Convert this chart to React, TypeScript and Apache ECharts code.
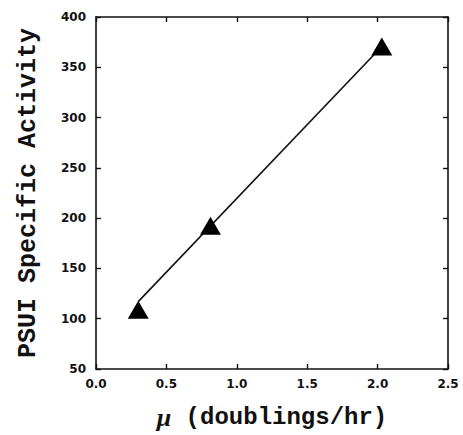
import React, { useEffect, useRef } from "react";
import * as echarts from "echarts";

const growthRate = [0.3, 0.813, 2.03];
const activity = [109, 192.4, 370.6];
const fitX = [0.3, 2.03];
const fitY = [117, 370.6];
const xTicks = [0, 0.5, 1.0, 1.5, 2.0, 2.5];
const yTicks = [50, 100, 150, 200, 250, 300, 350, 400];

const ink = "#111";
const labelFont = { fontFamily: "DejaVu Sans", fontWeight: "bold" as const, fontSize: 12, color: ink };
const titleFamily = "'Liberation Mono', monospace";

export default function App() {
  const ref = useRef<HTMLDivElement>(null);
  useEffect(() => {
    if (!ref.current) return;
    const chart = echarts.init(ref.current, null, { renderer: "svg" });
    const axisCommon = {
      type: "value" as const,
      axisLine: { show: true, onZero: false, lineStyle: { color: ink, width: 1.6 } },
      axisTick: { show: true, inside: true, length: 5, lineStyle: { color: ink, width: 1.4 } },
      splitLine: { show: false },
    };
    chart.setOption({
      animation: false,
      grid: { left: 96, right: 15, top: 17, bottom: 58, containLabel: false },
      xAxis: [
        {
          ...axisCommon,
          min: xTicks[0],
          max: xTicks[xTicks.length - 1],
          interval: 0.5,
          position: "bottom",
          axisLabel: { ...labelFont, margin: 9, formatter: (v: number) => v.toFixed(1) },
          name: "{mu|\u03bc} (doublings/hr)",
          nameLocation: "middle",
          nameGap: 35,
          nameTextStyle: {
            fontFamily: titleFamily,
            fontWeight: "bold",
            fontSize: 24,
            color: ink,
            rich: {
              mu: { fontFamily: "'Liberation Serif', serif", fontStyle: "italic", fontWeight: "bold", fontSize: 26, color: ink },
            },
          },
        },
        {
          ...axisCommon,
          min: xTicks[0],
          max: xTicks[xTicks.length - 1],
          interval: 0.5,
          position: "top",
          axisLabel: { show: false },
        },
      ],
      yAxis: [
        {
          ...axisCommon,
          min: yTicks[0],
          max: yTicks[yTicks.length - 1],
          interval: 50,
          position: "left",
          axisLabel: { ...labelFont, margin: 10 },
          name: "PSUI Specific Activity",
          nameLocation: "middle",
          nameGap: 55,
          nameTextStyle: { fontFamily: titleFamily, fontWeight: "bold", fontSize: 25, color: ink },
        },
        {
          ...axisCommon,
          min: yTicks[0],
          max: yTicks[yTicks.length - 1],
          interval: 50,
          position: "right",
          axisLabel: { show: false },
        },
      ],
      series: [
        {
          type: "line",
          data: fitX.map((x, i) => [x, fitY[i]]),
          symbol: "none",
          lineStyle: { color: ink, width: 1.6 },
          z: 2,
        },
        {
          type: "scatter",
          data: growthRate.map((x, i) => [x, activity[i]]),
          symbol: "triangle",
          symbolSize: [21, 18],
          itemStyle: { color: "#000", opacity: 1 },
          z: 3,
        },
      ],
    });
    return () => chart.dispose();
  }, []);
  return <div ref={ref} style={{ width: 463, height: 435, position: "absolute", left: 0, top: 0 }} />;
}
